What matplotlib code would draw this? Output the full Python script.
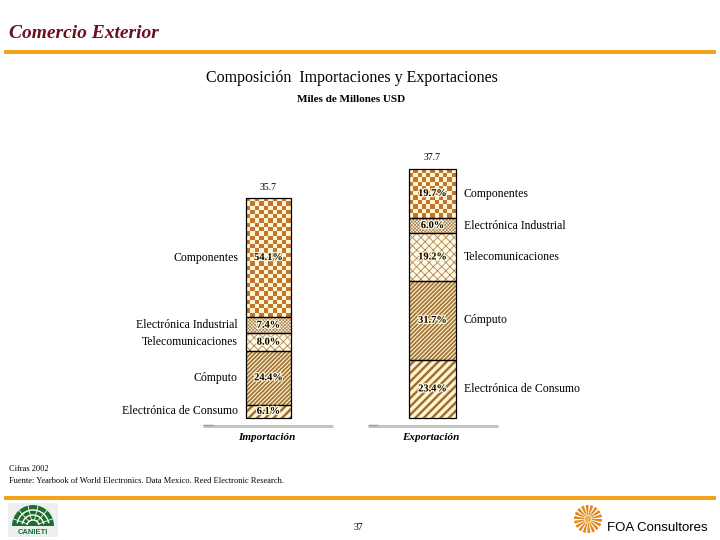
import numpy as np
import matplotlib
matplotlib.use("Agg")
import matplotlib.pyplot as plt
from matplotlib import patheffects as pe
from matplotlib.patches import Wedge, Rectangle, Circle, Arc

# ---------------- data ----------------
categories = ["Electrónica de Consumo", "Cómputo", "Telecomunicaciones",
              "Electrónica Industrial", "Componentes"]          # bottom -> top
groups = ["Importación", "Exportación"]
imp_pct = [6.1, 24.4, 8.0, 7.4, 54.1]
exp_pct = [23.4, 31.7, 19.2, 6.0, 19.7]
totals = [35.7, 37.7]
total_labels = ["35.7", "37.7"]

W, H = 720, 540
plt.rcParams['font.family'] = ['Liberation Serif', 'DejaVu Serif']
fig = plt.figure(figsize=(7.2, 5.4), dpi=100)
bg = fig.add_axes([0, 0, 1, 1])
bg.set_xlim(0, W); bg.set_ylim(H, 0); bg.axis('off')
bg.set_zorder(0)


def rect(x0, y0, x1, y1):
    return [x0 / W, (H - y1) / H, (x1 - x0) / W, (y1 - y0) / H]


ORANGE = '#f4a11c'
# header
bg.text(9, 33, "Comercio Exterior", fontsize=14, style='italic', weight='bold',
        color='#6a1020', va='center', ha='left')
bg.plot([4, 716], [52, 52], color=ORANGE, lw=2.9, solid_capstyle='butt')
bg.text(352, 78, "Composición  Importaciones y Exportaciones", ha='center',
        va='center', fontsize=11.5)
bg.text(351, 99, "Miles de Millones USD", ha='center', va='center',
        fontsize=8, weight='bold')

styles = [
    dict(hatch='////', hc='#9c6c2c', face='#fff3d2', hlw=1.7),
    dict(hatch='////////', hc='#a0743a', face='#fff0c8', hlw=1.25),
    dict(hatch='xxxx', hc='#b08650', face='#fff9e8', hlw=0.6),
    dict(hatch='xxxxxxxxxx', hc='#a47a44', face='#fff4dc', hlw=0.45),
    dict(hatch='checker', hc='#c0762f', face='#fff5d2', hlw=0.5),
]


def draw_stack(ax, total, pcts, side, tlabel, group):
    vals = [total * p / 100.0 for p in pcts]
    bottoms = np.concatenate([[0], np.cumsum(vals)[:-1]])
    ax.set_xlim(-0.5, 0.5)
    ax.set_ylim(0, total)
    ax.axis('off')
    for i, (cat, v, b, p) in enumerate(zip(categories, vals, bottoms, pcts)):
        st = styles[i]
        base = ax.bar(0, v, bottom=b, width=1.0, color=st['face'], linewidth=0,
                      zorder=1)[0]
        if st['hatch'] == 'checker':
            p0 = ax.transData.transform((-0.5, b))
            p1 = ax.transData.transform((0.5, b + v))
            nx = max(1, int(round(abs(p1[0] - p0[0]) / 4.3)))
            ny = max(1, int(round(abs(p1[1] - p0[1]) / 4.3)))
            ii, jj = np.meshgrid(np.arange(nx), np.arange(ny))
            mask = ((ii + jj) % 2).astype(bool)
            dark = np.array(matplotlib.colors.to_rgb(st['hc']))
            light = np.array(matplotlib.colors.to_rgb(st['face']))
            img = np.where(mask[..., None], dark, light)
            im = ax.imshow(img, extent=[-0.5, 0.5, b, b + v], origin='lower',
                           interpolation='nearest', aspect='auto', zorder=2)
            im.set_clip_path(base)
        else:
            plt.rcParams['hatch.linewidth'] = st['hlw']
            hb = ax.bar(0, v, bottom=b, width=1.0, facecolor='none',
                        edgecolor=st['hc'], hatch=st['hatch'], linewidth=0,
                        zorder=2)[0]
            if hasattr(hb, 'set_hatch_linewidth'):
                hb.set_hatch_linewidth(st['hlw'])
        ax.bar(0, v, bottom=b, width=1.0, facecolor='none', edgecolor='black',
               linewidth=0.9, zorder=3, clip_on=False)
        ax.text(0, b + v / 2, f"{p:.1f}%", ha='center', va='center',
                fontsize=7.5, zorder=4, color='#000000', weight='bold',
                path_effects=[pe.withStroke(linewidth=1.8, foreground='#fff5d8')])
        if side == 'left':
            ax.annotate(cat, xy=(-0.5, b + v / 2), xytext=(-8, 0),
                        textcoords='offset pixels', ha='right', va='center',
                        fontsize=8.5, annotation_clip=False)
        else:
            ax.annotate(cat, xy=(0.5, b + v / 2), xytext=(8, 0),
                        textcoords='offset pixels', ha='left', va='center',
                        fontsize=8.5, annotation_clip=False)
    ax.set_xlim(-0.5, 0.5)
    ax.set_ylim(0, total)
    ax.annotate(tlabel, xy=(0, total), xytext=(0, 11), textcoords='offset pixels',
                ha='center', va='center', fontsize=7, annotation_clip=False)
    ax.annotate(group, xy=(0, 0), xytext=(-2, -20), textcoords='offset pixels',
                ha='center', va='center', fontsize=8, style='italic',
                weight='bold', annotation_clip=False)


ax_imp = fig.add_axes(rect(246, 198, 291, 418))
ax_exp = fig.add_axes(rect(409, 169, 456, 418))
draw_stack(ax_imp, totals[0], imp_pct, 'left', total_labels[0], groups[0])
draw_stack(ax_exp, totals[1], exp_pct, 'right', total_labels[1], groups[1])

# floor lines
for x0, x1 in [(203, 333), (368, 498)]:
    bg.plot([x0, x1], [425.5, 425.5], color='#c4c4c4', lw=2.2,
            solid_capstyle='butt')
    bg.plot([x0, x0 + 10], [425.0, 425.0], color='#9c9c9c', lw=1.0,
            solid_capstyle='butt')

# footer
bg.text(9, 469, "Cifras 2002", fontsize=6, va='center')
bg.text(9, 481, "Fuente: Yearbook of World Electronics. Data Mexico. Reed Electronic Research.",
        fontsize=6, va='center')
bg.plot([4, 716], [498, 498], color=ORANGE, lw=2.9, solid_capstyle='butt')
bg.text(358, 527, "37", fontsize=7, ha='center', va='center')
bg.text(607, 528, "FOA Consultores", fontsize=9.5, va='center', ha='left',
        family=['Liberation Sans', 'DejaVu Sans'])

# CANIETI logo (approximation)
bg.add_patch(Rectangle((8, 503), 50, 34, facecolor='#eceff1', edgecolor='none'))
bg.add_patch(Wedge((33, 526), 21, 180, 360, facecolor='#1e6e2e', edgecolor='none'))
for r in (6, 11, 16):
    bg.add_patch(Arc((33, 526), 2 * r, 2 * r, theta1=190, theta2=350,
                     color='white', lw=1.0))
for ang in np.linspace(200, 340, 6):
    a = np.deg2rad(ang)
    bg.plot([33 + 6 * np.cos(a), 33 + 21 * np.cos(a)],
            [526 + 6 * np.sin(a), 526 + 21 * np.sin(a)], color='white', lw=0.6)
bg.text(33, 532, "CANIETI", fontsize=5.5, weight='bold', color='#1e6e2e',
        ha='center', va='center', family=['Liberation Sans', 'DejaVu Sans'])

# FOA logo (approximation)
n = 18
for k in range(n):
    a0 = 360.0 * k / n
    bg.add_patch(Wedge((588, 519), 14, a0, a0 + 360.0 / n * 0.62, width=10,
                       facecolor='#e0861a', edgecolor='none'))
bg.add_patch(Circle((588, 519), 3.5, facecolor='#f2b24a', edgecolor='none'))

fig.savefig("out.png", dpi=100)
